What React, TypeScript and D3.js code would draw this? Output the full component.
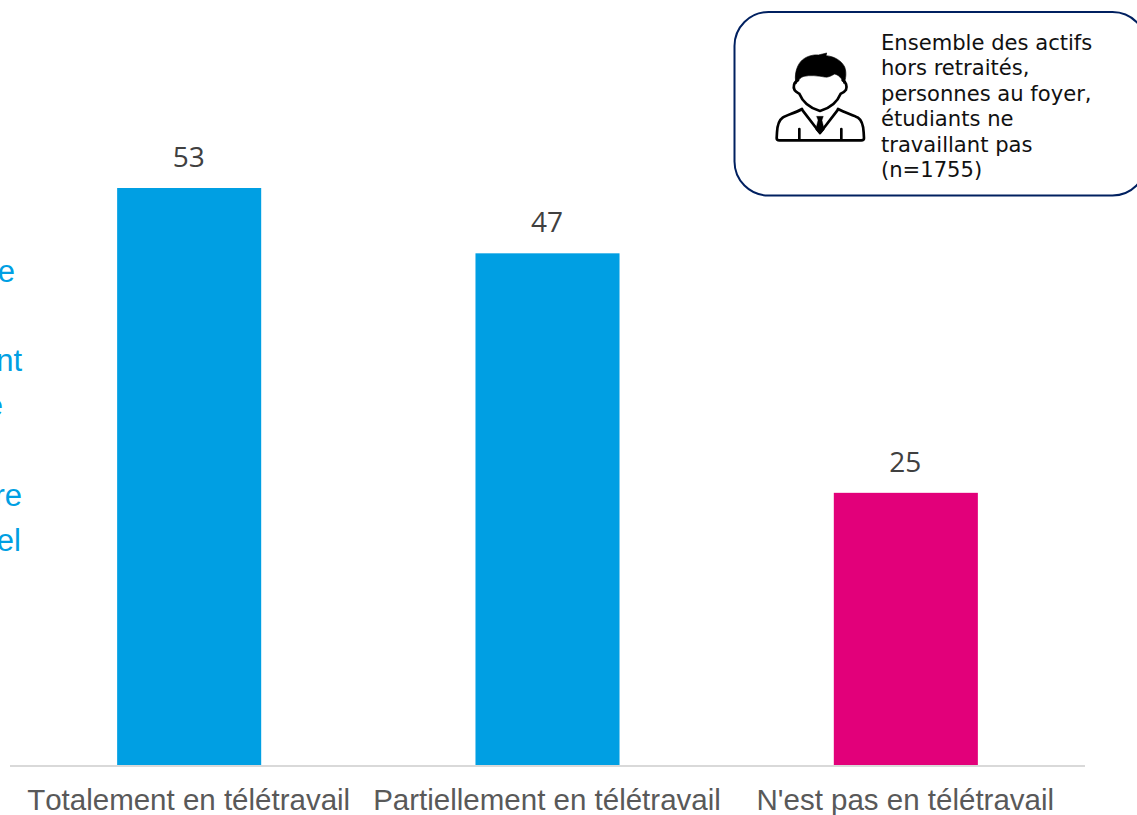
import React from "react";
import * as d3 from "d3";

const categories = ["Totalement en télétravail", "Partiellement en télétravail", "N'est pas en télétravail"];
const values = [53, 47, 25];
const barColors = ["#009FE3", "#009FE3", "#E2007A"];
const noteLines = ["Ensemble des actifs", "hors retraités,", "personnes au foyer,", "étudiants ne", "travaillant pas", "(n=1755)"];
const clippedLines = [
  { text: "e", x: 15, y: 282 },
  { text: "nt", x: 22, y: 371 },
  { text: "e", x: 3, y: 416 },
  { text: "re", x: 22, y: 506 },
  { text: "el", x: 21, y: 551 },
];

const x = d3.scaleBand<string>().domain(categories).range([10, 1085]).paddingInner(0.598).paddingOuter(0.299);
const y = d3.scaleLinear().domain([0, 53]).range([765, 188]);

function PersonIcon() {
  return (
    <g transform="translate(770,45) scale(0.3333)" fill="none" stroke="#000" strokeWidth={8} strokeLinejoin="round" strokeLinecap="round">
      <path fill="#000" stroke="#000" strokeWidth={2} d="M78,116 C72,90 80,64 92,50 C104,36 126,28 146,30 C152,28 165,26 170,24 L168,32 C192,34 214,46 224,66 C230,82 228,100 222,116 C216,100 206,90 194,87 C184,92 176,98 164,96 C144,92 118,90 102,94 C92,96 84,106 78,116 Z" />
      <path d="M84,106 C72,110 68,126 74,136 C78,142 84,144 88,146 C96,166 116,188 150,198 C184,188 204,166 212,146 C218,144 224,140 228,134 C232,124 228,110 218,106" />
      <path d="M96,192 C76,204 50,210 38,218 C26,226 22,244 21,262 L20,280 Q20,286 28,286 L274,286 Q282,286 282,280 L281,262 C280,244 276,226 264,218 C252,210 226,204 204,192" />
      <path d="M96,194 L150,264 L204,194" />
      <path d="M88,252 L88,284 M214,252 L214,284" />
      <path fill="#000" strokeWidth={1} d="M140,214 L160,214 L156,226 L163,254 L150,268 L137,254 L144,226 Z" />
    </g>
  );
}

export default function App() {
  return (
    <svg width={1137} height={815} viewBox="0 0 1137 815" style={{ position: "absolute", left: 0, top: 0, background: "#fff" }}>
      {clippedLines.map((l, i) => (
        <text key={i} x={l.x} y={l.y} textAnchor="end" fontFamily="Liberation Sans" fontSize={31} fill="#009FE3">{l.text}</text>
      ))}
      {categories.map((c, i) => (
        <rect key={c} x={x(c)!} y={y(values[i])} width={x.bandwidth()} height={y(0) - y(values[i])} fill={barColors[i]} />
      ))}
      <line x1={10} x2={1085} y1={766} y2={766} stroke="#D9D9D9" strokeWidth={2} />
      {categories.map((c, i) => (
        <text key={c} x={x(c)! + x.bandwidth() / 2 - 0.5} y={y(values[i]) - 21} textAnchor="middle" fontFamily="Open Sans" fontSize={28} fill="#404040">{values[i]}</text>
      ))}
      {categories.map((c) => (
        <text key={c} x={x(c)! + x.bandwidth() / 2 - 0.5} y={810} textAnchor="middle" fontFamily="Liberation Sans" fontSize={29.5} fill="#595959" style={{ fontKerning: "none" }}>{c}</text>
      ))}
      <rect x={734.5} y={12} width={412} height={183.5} rx={34} ry={34} fill="#fff" stroke="#002060" strokeWidth={2} />
      <PersonIcon />
      {noteLines.map((t, i) => (
        <text key={t} x={881} y={49.5 + i * 25.5} fontFamily="DejaVu Sans" fontSize={21.1} fill="#111">{t}</text>
      ))}
    </svg>
  );
}
